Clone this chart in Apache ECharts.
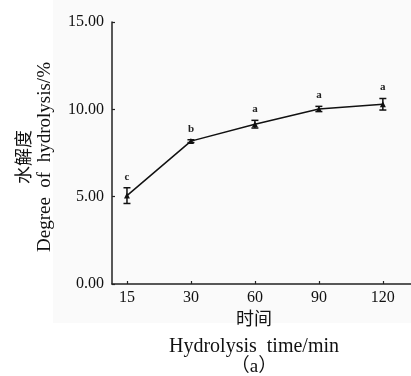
<!DOCTYPE html>
<html>
<head>
<meta charset="utf-8">
<script src="https://cdn.jsdelivr.net/npm/echarts@6/dist/echarts.min.js"></script>
<style>
  html, body { margin: 0; padding: 0; background: #fff; }
  #main { width: 411px; height: 376px; }
</style>
</head>
<body>
<div id="main"></div>
<script>
// hydrolysis time (min) and degree of hydrolysis (%)
const times = ['15', '30', '60', '90', '120'];
const degree = [5.06, 8.18, 9.15, 10.02, 10.29];
const errors = [0.45, 0.08, 0.22, 0.15, 0.33];
const letters = ['c', 'b', 'a', 'a', 'a'];

const FONT = '"Liberation Serif", "Noto Sans CJK SC", serif';
const idx = times.map((t, i) => i);

const chart = echarts.init(document.getElementById('main'));

const txt = (text, x, y, size, rot) => ({
  type: 'text',
  x: x, y: y,
  rotation: rot || 0,
  style: { text: text, font: size + 'px ' + FONT, fill: '#111', textAlign: 'center', textVerticalAlign: 'middle' },
});

chart.setOption({
  animation: false,
  backgroundColor: '#ffffff',
  graphic: [
    {
      type: 'rect',
      shape: { x: 53, y: 0, width: 358, height: 323 },
      style: { fill: '#fafafa' },
      z: -10,
      silent: true,
    },
    // axis titles
    txt('水解度', 25, 157, 18, Math.PI / 2),
    txt('Degree  of  hydrolysis/%', 45, 157, 19, Math.PI / 2),
    txt('时间', 254, 320, 18),
    txt('Hydrolysis  time/min', 254, 347, 20),
    txt('（a）', 254, 367, 19),
  ],
  grid: { left: 112, right: 0, top: 22, bottom: 92 },
  xAxis: {
    type: 'value',
    min: -0.234,
    max: 4.44,
    splitLine: { show: false },
    axisLine: { lineStyle: { color: '#222', width: 1.5 } },
    axisTick: {
      show: true, inside: true, length: 3,
      customValues: idx,
      lineStyle: { color: '#222', width: 1.2 },
    },
    axisLabel: {
      customValues: idx,
      formatter: v => times[Math.round(v)],
      color: '#111',
      fontFamily: FONT,
      fontSize: 16,
      margin: 6,
    },
  },
  yAxis: {
    type: 'value',
    min: 0,
    max: 15,
    interval: 5,
    splitLine: { show: false },
    axisLine: { show: true, onZero: false, lineStyle: { color: '#222', width: 1.5 } },
    axisTick: { show: true, inside: true, length: 3, lineStyle: { color: '#222', width: 1.2 } },
    axisLabel: {
      formatter: v => v.toFixed(2),
      color: '#111',
      fontFamily: FONT,
      fontSize: 16,
      margin: 8,
    },
  },
  series: [
    {
      type: 'line',
      data: degree.map((v, i) => [i, v]),
      symbol: 'triangle',
      symbolSize: 6,
      lineStyle: { color: '#111', width: 1.5 },
      itemStyle: { color: '#111' },
      z: 3,
    },
    {
      type: 'custom',
      data: degree.map((v, i) => [i, v, errors[i]]),
      renderItem: (params, api) => {
        const x = api.value(0);
        const v = api.value(1);
        const e = api.value(2);
        const top = api.coord([x, v + e]);
        const bot = api.coord([x, v - e]);
        const c = 3.5;
        const lineStyle = { stroke: '#111', lineWidth: 1.5 };
        return {
          type: 'group',
          children: [
            { type: 'line', shape: { x1: top[0], y1: top[1], x2: bot[0], y2: bot[1] }, style: lineStyle },
            { type: 'line', shape: { x1: top[0] - c, y1: top[1], x2: top[0] + c, y2: top[1] }, style: lineStyle },
            { type: 'line', shape: { x1: bot[0] - c, y1: bot[1], x2: bot[0] + c, y2: bot[1] }, style: lineStyle },
            {
              type: 'text',
              x: top[0], y: top[1] - 11,
              style: {
                text: letters[params.dataIndex],
                font: 'bold 11px ' + FONT,
                fill: '#222',
                textAlign: 'center',
                textVerticalAlign: 'middle',
              },
            },
          ],
        };
      },
      z: 4,
    },
  ],
});
</script>
</body>
</html>
